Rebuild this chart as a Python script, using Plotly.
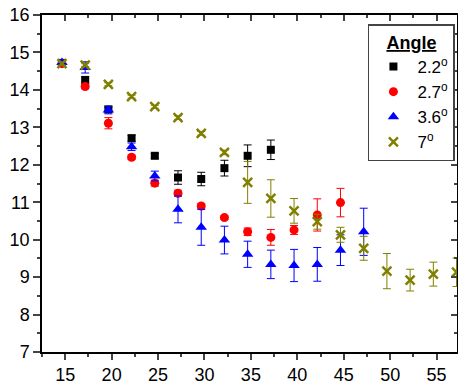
import plotly.graph_objects as go

# Data
x_all = [14.65, 17.15, 19.65, 22.15, 24.65, 27.15, 29.65, 32.15, 34.65, 37.15,
         39.65, 42.15, 44.65, 47.15, 49.65, 52.15, 54.65, 57.15]

y_22 = [14.72, 14.26, 13.48, 12.71, 12.24, 11.66, 11.62, 11.91, 12.24, 12.40]
e_22 = [0.05, 0.1, 0.06, 0.08, 0.06, 0.18, 0.18, 0.21, 0.29, 0.26]

y_27 = [14.70, 14.09, 13.11, 12.20, 11.51, 11.24, 10.90, 10.59, 10.21, 10.06, 10.26, 10.66, 10.99]
e_27 = [0.05, 0.06, 0.15, 0.06, 0.08, 0.08, 0.06, 0.05, 0.10, 0.21, 0.12, 0.43, 0.38]

y_36 = [14.73, 14.60, 13.46, 12.48, 11.70, 10.81, 10.33, 9.99, 9.61, 9.34, 9.31, 9.34, 9.72, 10.21]
e_36 = [0.06, 0.15, 0.10, 0.10, 0.13, 0.36, 0.48, 0.37, 0.35, 0.38, 0.43, 0.45, 0.41, 0.63]

y_7 = [14.70, 14.66, 14.15, 13.82, 13.55, 13.26, 12.84, 12.33, 11.53, 11.10,
       10.77, 10.48, 10.13, 9.77, 9.16, 8.92, 9.08, 9.13]
e_7 = [0.04, 0.04, 0.04, 0.04, 0.04, 0.05, 0.05, 0.06, 0.56, 0.50,
       0.33, 0.20, 0.20, 0.32, 0.47, 0.29, 0.32, 0.38]

names = ["2.2<sup>o</sup>", "2.7<sup>o</sup>", "3.6<sup>o</sup>", "7<sup>o</sup>"]
colors = ["#000000", "#ff0000", "#0000ff", "#808000"]
symbols = ["square", "circle", "triangle-up", "x-thin"]
sizes = [8, 9, 10, 9]
ys = [y_22, y_27, y_36, y_7]
es = [e_22, e_27, e_36, e_7]

fig = go.Figure()
for nm, c, s, sz, yv, ev in zip(names, colors, symbols, sizes, ys, es):
    marker = dict(color=c, symbol=s, size=sz)
    if s == "x-thin":
        marker["line"] = dict(color=c, width=2.5)
    fig.add_trace(go.Scatter(
        x=x_all[:len(yv)], y=yv, mode="markers", name=nm, marker=marker,
        error_y=dict(type="data", array=ev, visible=True, color=c, thickness=1, width=4),
    ))

# Invisible trace to host mirrored axes
fig.add_trace(go.Scatter(x=[None], y=[None], xaxis="x2", yaxis="y2", showlegend=False, hoverinfo="skip"))

font = "Liberation Sans, Arial, sans-serif"
fig.update_layout(
    width=458, height=388,
    margin=dict(l=42, r=1, t=15, b=36),
    plot_bgcolor="white", paper_bgcolor="white",
    font=dict(family=font, size=18, color="black"),
    showlegend=True,
    legend=dict(
        x=0.995, y=0.973, xanchor="right", yanchor="top",
        bgcolor="white", bordercolor="#444", borderwidth=1.5,
        itemwidth=38,
        font=dict(family=font, size=17, color="black"),
        title=dict(text="<b><u>Angle</u></b>", side="top center", font=dict(family=font, size=18)),
    ),
    xaxis=dict(
        range=[12.5, 57.2], dtick=5, tick0=15, ticks="outside", ticklen=6, tickwidth=1.5,
        showline=True, linecolor="black", linewidth=1.5, showgrid=False, zeroline=False,
        minor=dict(ticks="outside", ticklen=3, tickwidth=1.5, dtick=2.5, tick0=12.5),
        tickfont=dict(size=18),
    ),
    yaxis=dict(
        range=[7, 16], dtick=1, ticks="outside", ticklen=7, tickwidth=1.5,
        showline=True, linecolor="black", linewidth=1.5, showgrid=False, zeroline=False,
        minor=dict(ticks="outside", ticklen=3, tickwidth=1.5, dtick=0.5),
        tickfont=dict(size=18),
    ),
    xaxis2=dict(
        overlaying="x", side="top", matches="x", range=[12.5, 57.2], dtick=5, tick0=15,
        ticks="inside", ticklen=6, tickwidth=1.5, showticklabels=False,
        showline=True, linecolor="black", linewidth=1.5, showgrid=False, zeroline=False,
        minor=dict(ticks="inside", ticklen=3, tickwidth=1.5, dtick=2.5, tick0=12.5),
    ),
    yaxis2=dict(
        overlaying="y", side="right", matches="y", range=[7, 16], dtick=1,
        ticks="inside", ticklen=6, tickwidth=1.5, showticklabels=False,
        showline=True, linecolor="black", linewidth=1.5, showgrid=False, zeroline=False,
        minor=dict(ticks="inside", ticklen=3, tickwidth=1.5, dtick=0.5),
    ),
)

fig.write_html("out.html", config={"displayModeBar": False},
               post_script="document.body.style.margin='0';")
